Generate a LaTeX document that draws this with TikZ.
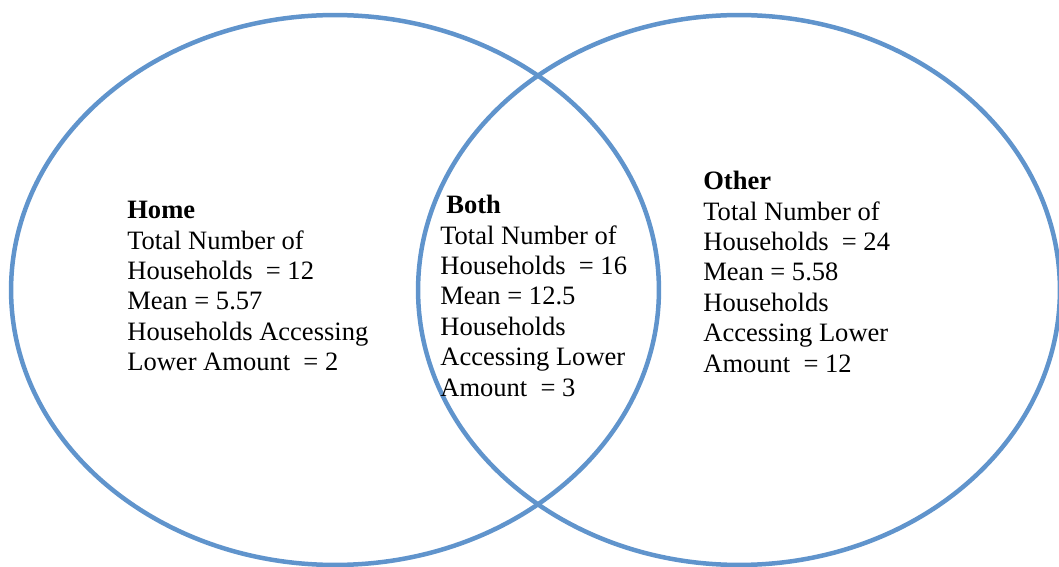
\documentclass[tikz,border=0pt]{standalone}
\usepackage{fontspec}
\setmainfont{Liberation Serif}
\definecolor{vennblue}{RGB}{96,148,204}
\tikzset{
  vennring/.style={draw=vennblue, line width=0.09cm},
  venntext/.style={anchor=north west, inner sep=0pt, align=left,
    font=\fontsize{15.1}{17.3}\selectfont}
}
\begin{document}
\begin{tikzpicture}[x=0.02cm,y=-0.02cm]

\useasboundingbox (0,0) rectangle (1059,567);

% the two sets
\draw[vennring] (335,290) ellipse [x radius=6.48cm, y radius=5.5cm];
\draw[vennring] (739,290) ellipse [x radius=6.42cm, y radius=5.5cm];

% texts
\node[venntext] (home) at (127,201) {\textbf{Home}\\Total Number of\\Households~ = 12\\Mean = 5.57\\Households Accessing\\Lower Amount~ = 2};
\node[venntext] (both) at (440,195) {\hspace*{0.12cm}\textbf{Both}\\Total Number of\\Households~ = 16\\Mean = 12.5\\Households\\Accessing Lower\\Amount~ = 3};
\node[venntext] (other) at (703,171) {\textbf{Other}\\Total Number of\\Households~ = 24\\Mean = 5.58\\Households\\Accessing Lower\\Amount~ = 12};

\end{tikzpicture}
\end{document}
